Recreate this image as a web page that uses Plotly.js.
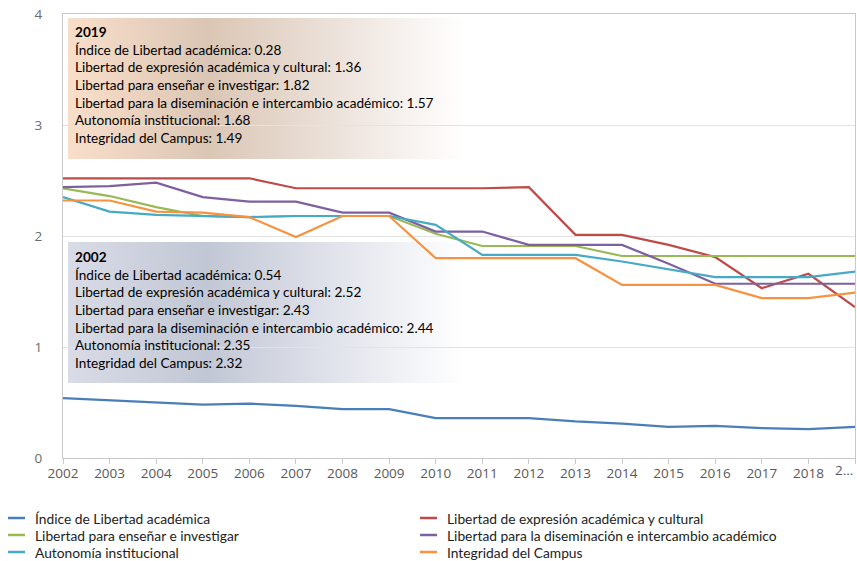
<!DOCTYPE html>
<html>
<head>
<meta charset="utf-8">
<script src="https://cdn.plot.ly/plotly-3.0.1.min.js"></script>
<style>html,body{margin:0;padding:0;background:#fff;}#chart{width:857px;height:561px;}</style>
</head>
<body>
<div id="chart"></div>
<script>
// ---- data ----
const years = [2002,2003,2004,2005,2006,2007,2008,2009,2010,2011,2012,2013,2014,2015,2016,2017,2018,2019];
const tickLabels = ['2002','2003','2004','2005','2006','2007','2008','2009','2010','2011','2012','2013','2014','2015','2016','2017','2018','2...'];
const yTicks = [0,1,2,3,4];
const seriesNames = [
  'Índice de Libertad académica',
  'Libertad de expresión académica y cultural',
  'Libertad para enseñar e investigar',
  'Libertad para la diseminación e intercambio académico',
  'Autonomía institucional',
  'Integridad del Campus'
];
const indice      = [0.54,0.52,0.50,0.48,0.49,0.47,0.44,0.44,0.36,0.36,0.36,0.33,0.31,0.28,0.29,0.27,0.26,0.28];
const expresion   = [2.52,2.52,2.52,2.52,2.52,2.43,2.43,2.43,2.43,2.43,2.44,2.01,2.01,1.92,1.81,1.53,1.66,1.36];
const ensenar     = [2.43,2.36,2.26,2.18,2.17,2.18,2.18,2.18,2.02,1.91,1.91,1.91,1.82,1.82,1.82,1.82,1.82,1.82];
const diseminacion= [2.44,2.45,2.48,2.35,2.31,2.31,2.21,2.21,2.04,2.04,1.92,1.92,1.92,1.75,1.57,1.57,1.57,1.57];
const autonomia   = [2.35,2.22,2.19,2.18,2.17,2.18,2.18,2.18,2.10,1.83,1.83,1.83,1.77,1.70,1.63,1.63,1.63,1.68];
const integridad  = [2.32,2.32,2.22,2.21,2.17,1.99,2.18,2.18,1.80,1.80,1.80,1.80,1.56,1.56,1.56,1.44,1.44,1.49];
const allSeries = [indice, expresion, ensenar, diseminacion, autonomia, integridad];
const colors = ['#4a7ebb','#be4b48','#98b954','#7d60a0','#46aac5','#f69240'];

// ---- tooltip-style annotation text built from data ----
function boxText(idx){
  let s = '<b>' + years[idx] + '</b>';
  seriesNames.forEach((n,i)=>{ s += '<br>' + n + ': ' + allSeries[i][idx].toFixed(2); });
  return s;
}
function gradSvg(stops){
  let st = stops.map(s=>`<stop offset="${s[0]}" stop-color="${s[1]}"/>`).join('');
  const svg = `<svg xmlns="http://www.w3.org/2000/svg" width="400" height="140" viewBox="0 0 400 140" preserveAspectRatio="none"><defs><linearGradient id="g" x1="0" y1="0" x2="1" y2="0">${st}</linearGradient></defs><rect x="0" y="0" width="400" height="140" fill="url(#g)"/></svg>`;
  return 'data:image/svg+xml;charset=utf-8,' + encodeURIComponent(svg);
}

const traces = seriesNames.map((n,i)=>({
  x: years, y: allSeries[i], name: n, type: 'scatter', mode: 'lines',
  line: {color: colors[i], width: 2.2}, hoverinfo: 'skip', showlegend: false
}));

const PL = 63, PR = 2, PT = 14, PB = 103;
const PW = 857 - PL - PR, PH = 561 - PT - PB;
const px = v => (v - PL) / PW;
const py = v => (561 - PB - v) / PH;

// ---- legend (two columns, row-wise order) drawn as shapes + annotations ----
const legShapes = [], legAnns = [];
seriesNames.forEach((n,i)=>{
  const col = i % 2, row = Math.floor(i / 2);
  const x0 = col === 0 ? 8 : 420;
  const yy = 518 + row * 17;
  legShapes.push({type: 'line', xref: 'paper', yref: 'paper', x0: px(x0), x1: px(x0 + 17), y0: py(yy), y1: py(yy),
                  line: {color: colors[i], width: 2.5}});
  legAnns.push({text: n, xref: 'paper', yref: 'paper', x: px(x0 + 25), y: py(yy), xanchor: 'left', yanchor: 'middle',
                showarrow: false, font: {family: 'Lato, sans-serif', size: 13.8, color: '#222'}});
});

// last (truncated) tick label: kept inside the page, right-aligned on its tick
const lastIdx = years.length - 1;
const shownTicks = tickLabels.map((t,i)=> i === lastIdx ? '' : t);
const tickFont = {family: '"Open Sans", sans-serif', size: 13.5, color: '#595959'};
const lastTickAnn = {text: tickLabels[lastIdx], xref: 'x', yref: 'paper', x: years[lastIdx], y: py(470),
  xanchor: 'right', yanchor: 'middle', showarrow: false, font: tickFont};

const layout = {
  width: 857, height: 561,
  margin: {l: PL, r: PR, t: PT, b: PB, autoexpand: false},
  paper_bgcolor: '#ffffff',
  plot_bgcolor: 'rgba(0,0,0,0)',
  font: {family: 'Lato, "Open Sans", sans-serif', color: '#222', size: 13},
  showlegend: false,
  xaxis: {
    range: [2002, 2019], tickvals: years, ticktext: shownTicks,
    showgrid: false, zeroline: false,
    showline: true, linecolor: '#c9c9c9', linewidth: 1, mirror: true,
    ticks: 'outside', ticklen: 5, tickcolor: '#c9c9c9', ticklabelstandoff: -2,
    tickfont: tickFont
  },
  yaxis: {
    range: [0, 4], tickvals: yTicks,
    showgrid: true, gridcolor: '#e3e3e3', zeroline: false,
    showline: true, linecolor: '#c9c9c9', linewidth: 1, mirror: true,
    ticks: 'outside', ticklen: 17, tickcolor: 'rgba(0,0,0,0)',
    tickfont: {family: '"Open Sans", sans-serif', size: 13.5, color: '#6b6b6b'}
  },
  shapes: legShapes,
  images: [
    {source: gradSvg([[0,'#f9dfca'],[0.35,'#dbc6b5'],[0.62,'#e9ddd4'],[1,'#ffffff']]),
     xref: 'paper', yref: 'paper', x: px(68), y: py(18), sizex: px(465)-px(68), sizey: py(18)-py(159),
     xanchor: 'left', yanchor: 'top', sizing: 'stretch', layer: 'below'},
    {source: gradSvg([[0,'#d9dce6'],[0.35,'#c2c7d5'],[0.62,'#dcdfe8'],[1,'#ffffff']]),
     xref: 'paper', yref: 'paper', x: px(68), y: py(242), sizex: px(465)-px(68), sizey: py(242)-py(383),
     xanchor: 'left', yanchor: 'top', sizing: 'stretch', layer: 'below'}
  ],
  annotations: [
    {text: boxText(17), xref: 'paper', yref: 'paper', x: px(73), y: py(22), xanchor: 'left', yanchor: 'top',
     align: 'left', showarrow: false, font: {family: 'Lato, sans-serif', size: 13.6, color: '#000'}},
    {text: boxText(0), xref: 'paper', yref: 'paper', x: px(73), y: py(247), xanchor: 'left', yanchor: 'top',
     align: 'left', showarrow: false, font: {family: 'Lato, sans-serif', size: 13.6, color: '#000'}},
    lastTickAnn
  ].concat(legAnns)
};

Plotly.newPlot('chart', traces, layout, {displayModeBar: false, staticPlot: true});
</script>
</body>
</html>
